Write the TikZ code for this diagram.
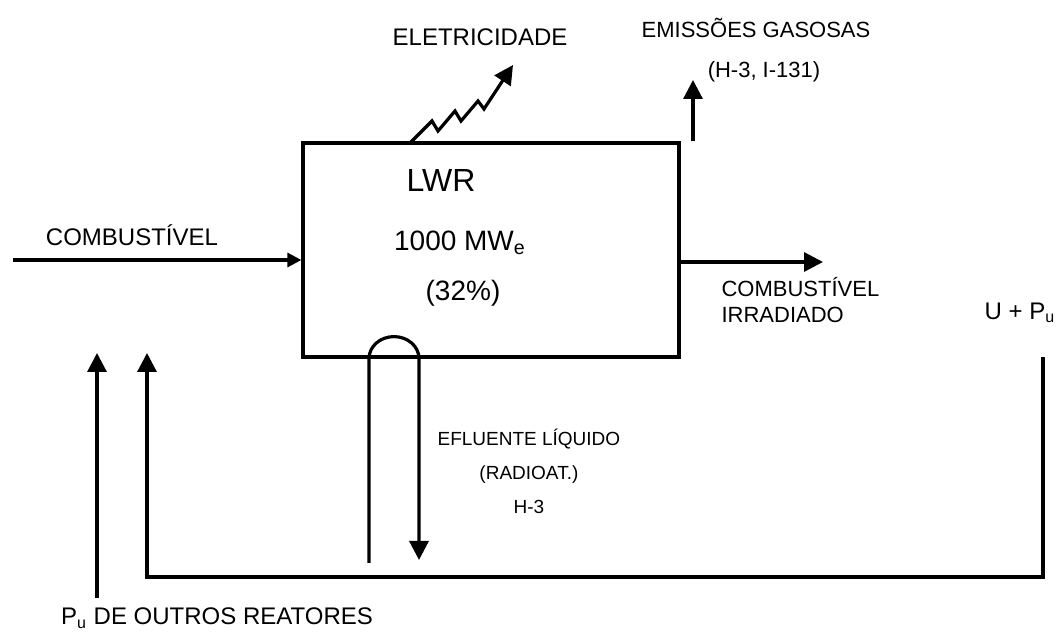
\documentclass[tikz,border=0pt]{standalone}
\usepackage{fontspec}
\setmainfont{Liberation Sans}
\usetikzlibrary{positioning, arrows.meta}

\begin{document}
\begin{tikzpicture}[x=0.5pt, y=-0.5pt, line width=1.6pt,
			rotulo/.style={font=\fontsize{12}{17}\selectfont, inner sep=0pt},
			seta/.style={-{Triangle[length=9.5pt,width=9.5pt]}}]
			\useasboundingbox (0,0) rectangle (1061,641);
			% reator
			\node[draw, minimum width=188pt, minimum height=107pt, inner sep=0pt] (lwr) at (491,250) {};
			\node[font=\fontsize{16}{18}\selectfont, inner sep=0pt] (nome) at (441,180) {LWR};
			\node[font=\fontsize{14}{16}\selectfont, inner sep=0pt] (pot) at (460,243) {1000 MW\textsubscript{e}};
			\node[font=\fontsize{14}{16}\selectfont, inner sep=0pt] (rend) at (463,293) {(32\%)};
			% pontos livres
			\coordinate (cin) at (13,260);
			\coordinate (saida) at (823,262);
			\coordinate (gas) at (693,80);
			\coordinate (elet) at (513,65);
			\coordinate (raio) at (410,143);
			\coordinate (ret) at (1043,357);
			\coordinate (canto) at (147,577);
			\coordinate (entra2) at (147,353);
			\coordinate (outros) at (97,598);
			\coordinate (entra1) at (97,353);
			\coordinate (perna1) at (369,563);
			\coordinate (perna2) at (419,560);
			% textos
			\node[rotulo] (teletr) at (480,37) {ELETRICIDADE};
			\node[rotulo, font=\fontsize{11}{15}\selectfont] (temis) at (756,28) {EMISSÕES GASOSAS};
			\node[rotulo, font=\fontsize{11}{15}\selectfont] (tiso) at (764,72) {(H-3, I-131)};
			\node[rotulo] (tcomb) at (132,235) {COMBUSTÍVEL};
			\node[rotulo, font=\fontsize{11}{13}\selectfont, align=left, anchor=west] (tirr) at (720,300) {COMBUSTÍVEL\\IRRADIADO};
			\node[rotulo] (upu) at (1020,313) {U + P\textsubscript{u}};
			\node[rotulo, font=\fontsize{9.5}{17}\selectfont, align=center, anchor=west] (tefl) at (436,471) {EFLUENTE LÍQUIDO\\(RADIOAT.)\\H-3};
			\node[rotulo] (tout) at (217,618) {P\textsubscript{u} DE OUTROS REATORES};
			% fluxos
			\draw[-{Triangle[length=7pt,width=7pt]}] (cin) -- (cin -| lwr.west);
			\draw[seta] (saida -| lwr.east) -- (saida);
			\draw[seta] (gas |- lwr.north) -- (gas);
			\draw[seta] (raio) -- ++(22,-22) -- ++(6,10) -- ++(17,-20) -- ++(6,10) -- ++(17,-20) -- ++(6,8) -- (elet);
			\draw[seta] (perna1) -- (perna1 |- lwr.south) arc[start angle=180, end angle=360, x radius=25, y radius=22] -- (perna2);
			\draw[seta] (ret) |- (canto) -- (entra2);
			\draw[seta] (outros) -- (entra1);
		\end{tikzpicture}
\end{document}
